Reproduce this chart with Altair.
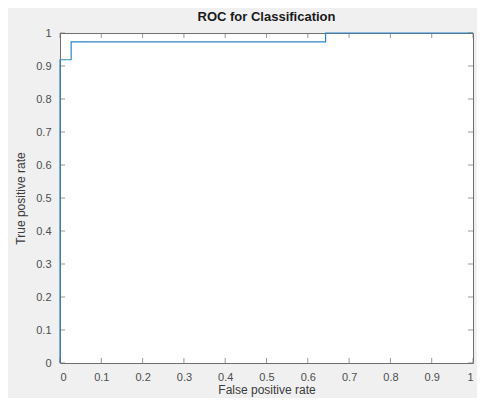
import altair as alt
import pandas as pd

# ROC curve points (step curve)
fpr = [0.0, 0.0, 0.027, 0.027, 0.643, 0.643, 1.0]
tpr = [0.0, 0.919, 0.919, 0.973, 0.973, 1.0, 1.0]
order = list(range(len(fpr)))

ticks = [0.0, 0.1, 0.2, 0.3, 0.4, 0.5, 0.6, 0.7, 0.8, 0.9, 1.0]

W, H = 413, 330
FONT = "Liberation Sans"
LABEL_COLOR = "#4d4d4d"
BOX_COLOR = "#6e6e6e"

curve = pd.DataFrame({"fpr": fpr, "tpr": tpr, "i": order})
tick_df = pd.DataFrame({"t": ticks})

xscale = alt.Scale(domain=[0, 1], nice=False)
yscale = alt.Scale(domain=[0, 1], nice=False)

xaxis = alt.Axis(title="False positive rate", values=ticks, format=".1~f",
                 tickSize=0, domain=False, grid=False, labelPadding=8,
                 labelOverlap=False,
                 labelFont=FONT, labelFontSize=11, labelColor=LABEL_COLOR,
                 titleFont=FONT, titleFontSize=12, titleFontWeight="normal",
                 titleColor="#3a3a3a", titlePadding=2)
yaxis = alt.Axis(title="True positive rate", values=ticks, format=".1~f",
                 tickSize=0, domain=False, grid=False, labelPadding=9,
                 labelOverlap=False,
                 labelFont=FONT, labelFontSize=11, labelColor=LABEL_COLOR,
                 titleFont=FONT, titleFontSize=12, titleFontWeight="normal",
                 titleColor="#3a3a3a", titlePadding=8)

line = alt.Chart(curve).mark_line(color="#2a86c6", strokeWidth=1.2, clip=False).encode(
    x=alt.X("fpr:Q", scale=xscale, axis=xaxis),
    y=alt.Y("tpr:Q", scale=yscale, axis=yaxis),
    order="i:Q",
)

tick_len = 5
xt_bottom = alt.Chart(tick_df).mark_tick(orient="vertical", size=tick_len, thickness=1, color=BOX_COLOR).encode(
    x=alt.X("t:Q", scale=xscale, axis=xaxis), y=alt.value(H - tick_len / 2))
xt_top = alt.Chart(tick_df).mark_tick(orient="vertical", size=tick_len, thickness=1, color=BOX_COLOR).encode(
    x=alt.X("t:Q", scale=xscale, axis=xaxis), y=alt.value(tick_len / 2))
yt_left = alt.Chart(tick_df).mark_tick(orient="horizontal", size=tick_len, thickness=1, color=BOX_COLOR).encode(
    y=alt.Y("t:Q", scale=yscale, axis=yaxis), x=alt.value(tick_len / 2))
yt_right = alt.Chart(tick_df).mark_tick(orient="horizontal", size=tick_len, thickness=1, color=BOX_COLOR).encode(
    y=alt.Y("t:Q", scale=yscale, axis=yaxis), x=alt.value(W - tick_len / 2))

chart = alt.layer(line, xt_bottom, xt_top, yt_left, yt_right).properties(
    width=W, height=H,
    title=alt.TitleParams("ROC for Classification", font=FONT, fontSize=13,
                          fontWeight="bold", color="#1a1a1a", anchor="middle", offset=3),
    autosize=alt.AutoSizeParams(type="none"),
    padding={"left": 52, "top": 25, "right": 4, "bottom": 35},
    background="#f0f0f0",
).configure_view(
    fill="white", stroke=BOX_COLOR, strokeWidth=1
)

chart.save("out.html", embed_options={"renderer": "svg", "actions": False})
